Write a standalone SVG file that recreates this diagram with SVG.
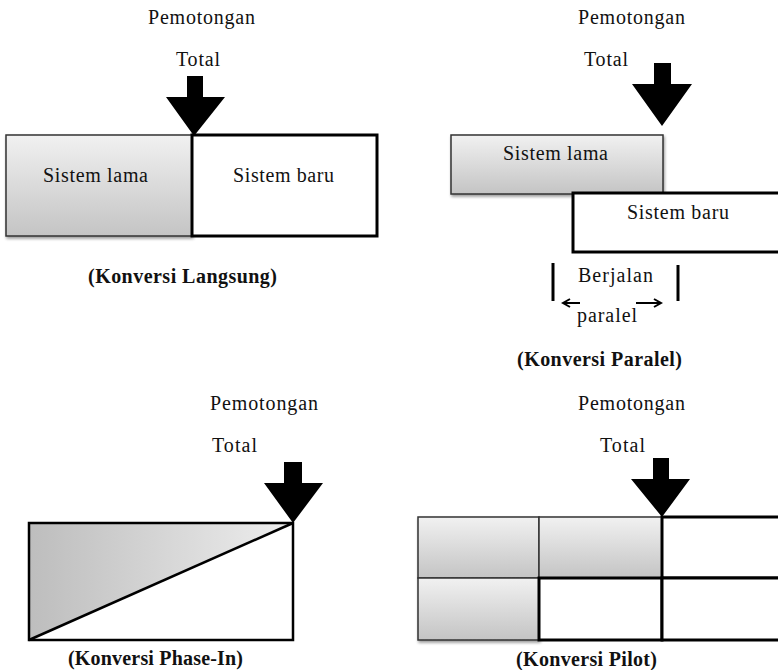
<svg xmlns="http://www.w3.org/2000/svg" width="778" height="670" viewBox="0 0 778 670">
<defs>
<linearGradient id="gv" x1="0" y1="0" x2="0" y2="1"><stop offset="0" stop-color="#f1f1f1"/><stop offset="1" stop-color="#c4c4c4"/></linearGradient>
<linearGradient id="gh" x1="0" y1="0" x2="1" y2="0"><stop offset="0" stop-color="#bdbdbd"/><stop offset="1" stop-color="#eeeeee"/></linearGradient>
<filter id="sh" x="-5%" y="-5%" width="115%" height="120%"><feGaussianBlur in="SourceAlpha" stdDeviation="1.5"/><feOffset dx="1" dy="2"/><feComponentTransfer><feFuncA type="linear" slope="0.4"/></feComponentTransfer><feMerge><feMergeNode/><feMergeNode in="SourceGraphic"/></feMerge></filter>
<marker id="ah" markerWidth="10" markerHeight="10" refX="8" refY="5" orient="auto" markerUnits="userSpaceOnUse"><path d="M1,1 L8,5 L1,9" fill="none" stroke="#000" stroke-width="2"/></marker>
</defs>
<style>
text{font-family:"Liberation Serif","Times New Roman",serif;font-size:20px;fill:#111}
.b{font-weight:bold;font-size:20px}
.old{fill:url(#gv);stroke:#333;stroke-width:1.5}
.new{fill:#fff;stroke:#000;stroke-width:3}
.arr{fill:#000}
.ln{stroke:#000;stroke-width:3;fill:none}
</style>

<g id="langsung">
<text x="148" y="24" textLength="107">Pemotongan</text>
<text x="176" y="66" textLength="44">Total</text>
<polygon class="arr" points="187,76 203,76 203,97 225,97 194,136 166,97 187,97"/>
<rect class="old" x="6" y="135" width="186" height="101" filter="url(#sh)"/>
<rect class="new" x="192" y="135" width="185" height="101"/>
<text x="43" y="182" textLength="105">Sistem lama</text>
<text x="233" y="182" textLength="101">Sistem baru</text>
<text class="b" x="88" y="283" textLength="189">(Konversi Langsung)</text>
</g>

<g id="paralel">
<text x="578" y="24" textLength="107">Pemotongan</text>
<text x="584" y="66" textLength="44">Total</text>
<polygon class="arr" points="654,63 671,63 671,84 692,84 662,126 632,84 654,84"/>
<rect class="old" x="451" y="135" width="212" height="59" filter="url(#sh)"/>
<rect class="new" x="573" y="193" width="210" height="59"/>
<text x="503" y="160" textLength="105">Sistem lama</text>
<text x="627" y="219" textLength="102">Sistem baru</text>
<text x="578" y="282" textLength="75">Berjalan</text>
<line class="ln" x1="553" y1="263" x2="553" y2="301"/>
<line class="ln" x1="678" y1="265" x2="678" y2="301"/>
<line x1="580" y1="303" x2="563" y2="303" stroke="#000" stroke-width="2" marker-end="url(#ah)"/>
<line x1="636" y1="303" x2="661" y2="303" stroke="#000" stroke-width="2" marker-end="url(#ah)"/>
<text x="577" y="322" textLength="60">paralel</text>
<text class="b" x="517" y="366" textLength="165">(Konversi Paralel)</text>
</g>

<g id="phasein">
<text x="210" y="410" textLength="108">Pemotongan</text>
<text x="212" y="452" textLength="45">Total</text>
<polygon class="arr" points="284,462 302,462 302,483 323,483 293,523 264,483 284,483"/>
<polygon points="29,523 293,523 29,640" fill="url(#gh)"/>
<rect x="29" y="523" width="264" height="117" fill="none" stroke="#000" stroke-width="2.5"/>
<line x1="29" y1="640" x2="293" y2="523" stroke="#000" stroke-width="2.5"/>
<text class="b" x="68" y="665" textLength="175">(Konversi Phase-In)</text>
</g>

<g id="pilot">
<text x="578" y="410" textLength="107">Pemotongan</text>
<text x="600" y="452" textLength="45">Total</text>
<polygon class="arr" points="653,458 669,458 669,479 690,479 662,517 631,479 653,479"/>
<g filter="url(#sh)">
<rect class="old" x="418" y="517" width="121" height="61"/>
<rect class="old" x="539" y="517" width="123" height="61"/>
<rect class="old" x="418" y="578" width="121" height="62"/>
</g>
<rect class="new" x="662" y="517" width="120" height="61"/>
<rect class="new" x="539" y="578" width="123" height="62"/>
<rect class="new" x="662" y="578" width="120" height="62"/>
<text class="b" x="516" y="666" textLength="141">(Konversi Pilot)</text>
</g>
</svg>
